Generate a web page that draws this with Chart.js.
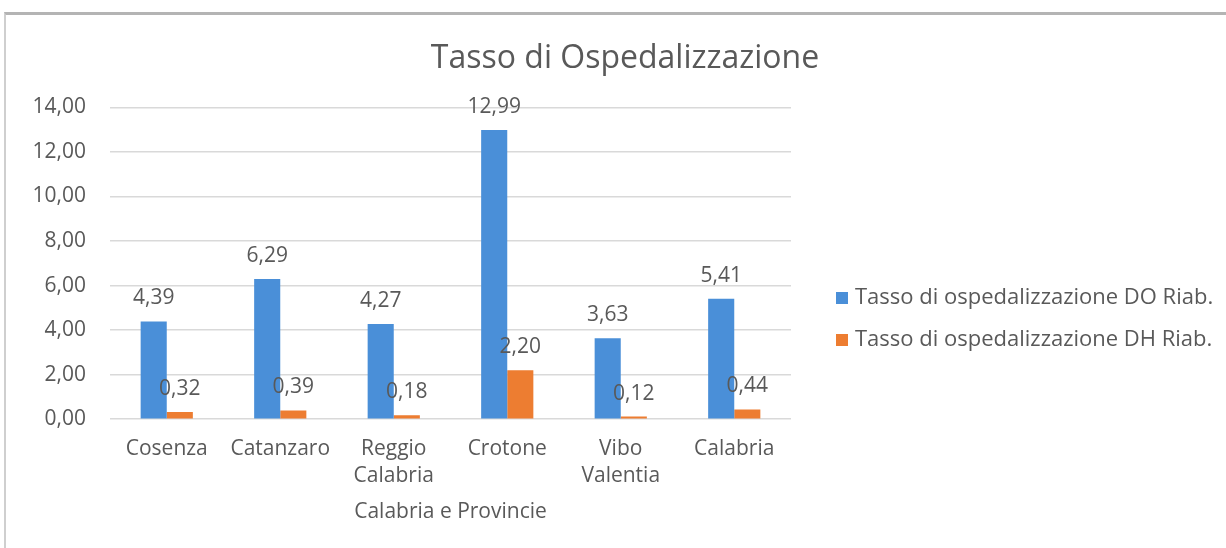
<!DOCTYPE html>
<html>
<head>
<meta charset="utf-8">
<title>Tasso di Ospedalizzazione</title>
<script src="https://cdn.jsdelivr.net/npm/chart.js@4.4.1/dist/chart.umd.min.js"></script>
<style>
  body { margin: 0; background: #fff; overflow: hidden; }
  #frame {
    position: absolute; left: 4px; top: 12px; width: 1400px; height: 700px;
    border-top: 3px solid #b4b4b4; border-left: 2px solid #cfcfcf;
  }
  #chart { position: absolute; left: 0; top: 0; }
</style>
</head>
<body>
<div id="frame"></div>
<canvas id="chart" width="1226" height="548"></canvas>
<script>
// data
var categories = ['Cosenza', 'Catanzaro', ['Reggio', 'Calabria'], 'Crotone', ['Vibo', 'Valentia'], 'Calabria'];
var seriesNames = ['Tasso di ospedalizzazione DO Riab.', 'Tasso di ospedalizzazione DH Riab.'];
var tassoDO = [4.39, 6.29, 4.27, 12.99, 3.63, 5.41];
var tassoDH = [0.32, 0.39, 0.18, 2.20, 0.12, 0.44];
var yMin = 0, yMax = 14, yStep = 2;

var grey = '#595959';
var fontName = "'Open Sans', sans-serif";

function fmt(v) {
	return v.toFixed(2).replace('.', ',');
}

// value labels above each bar
var valueLabels = {
	id: 'valueLabels',
	afterDatasetsDraw: function(chart) {
		var ctx = chart.ctx;
		ctx.save();
		ctx.font = '21px ' + fontName;
		ctx.fillStyle = grey;
		ctx.textAlign = 'center';
		ctx.textBaseline = 'middle';
		chart.data.datasets.forEach(function(ds, i) {
			chart.getDatasetMeta(i).data.forEach(function(bar, j) {
				ctx.fillText(fmt(ds.data[j]), bar.x, bar.y - 23);
			});
		});
		ctx.restore();
	}
};

// legend on the right, like the Excel one
var sideLegend = {
	id: 'sideLegend',
	afterDraw: function(chart) {
		var ctx = chart.ctx;
		var x = chart.chartArea.right + 45;
		ctx.save();
		ctx.font = '22px ' + fontName;
		ctx.textBaseline = 'middle';
		ctx.textAlign = 'left';
		chart.data.datasets.forEach(function(ds, i) {
			var y = 298 + i * 42;
			ctx.fillStyle = ds.backgroundColor;
			ctx.fillRect(x, y - 6, 12, 12);
			ctx.fillStyle = grey;
			ctx.fillText(ds.label, x + 19, y);
		});
		ctx.restore();
	}
};

var ctx = document.getElementById('chart').getContext('2d');
var chart = new Chart(ctx, {
	type: 'bar',
	data: {
		labels: categories,
		datasets: [{
			label: seriesNames[0],
			data: tassoDO,
			backgroundColor: '#4a8fd8',
			categoryPercentage: 0.46,
			barPercentage: 1
		}, {
			label: seriesNames[1],
			data: tassoDH,
			backgroundColor: '#ed7d31',
			categoryPercentage: 0.46,
			barPercentage: 1
		}]
	},
	options: {
		responsive: false,
		animation: false,
		devicePixelRatio: 1,
		layout: { padding: { top: 20, left: 24, right: 0, bottom: 23 } },
		plugins: {
			legend: { display: false },
			tooltip: { enabled: false },
			title: {
				display: true,
				text: 'Tasso di Ospedalizzazione',
				color: grey,
				font: { family: fontName, size: 32, weight: 'normal', lineHeight: 1.2 },
				padding: { top: 20, bottom: 29 }
			}
		},
		scales: {
			x: {
				grid: { display: false, drawTicks: false },
				border: { display: false },
				ticks: {
					color: grey,
					padding: 16,
					maxRotation: 0,
					autoSkip: false,
					font: { family: fontName, size: 21, lineHeight: 1.3 }
				},
				title: {
					display: true,
					text: 'Calabria e Provincie',
					color: grey,
					font: { family: fontName, size: 21, lineHeight: 1.2 },
					padding: { top: -6, bottom: 0 }
				}
			},
			y: {
				min: yMin,
				max: yMax,
				grid: { color: '#d9d9d9', lineWidth: 1.5, drawTicks: false },
				border: { display: false },
				ticks: {
					stepSize: yStep,
					color: grey,
					padding: 24,
					font: { family: fontName, size: 21 },
					callback: function(v) { return fmt(v); }
				},
				afterFit: function(scale) { scale.width = 86; }
			},
			side: {
				position: 'right',
				grid: { display: false, drawTicks: false },
				border: { display: false },
				ticks: { display: false },
				afterFit: function(scale) { scale.width = 435; }
			}
		}
	},
	plugins: [valueLabels, sideLegend]
});
</script>
</body>
</html>
